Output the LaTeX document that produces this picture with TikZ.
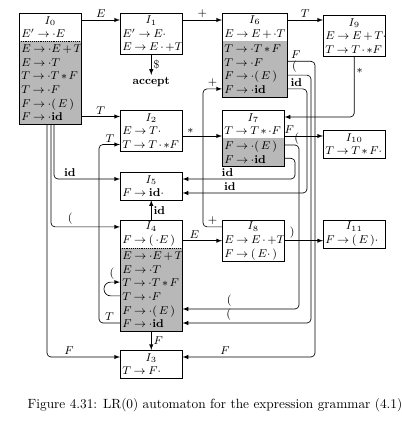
\documentclass[tikz,border=0pt]{standalone}
\usepackage{fix-cm}
\usepackage{amsmath}
\usepackage{tikz}
\usetikzlibrary{arrows}
\usetikzlibrary{positioning}
\newcommand{\lrfont}{\fontsize{8.5}{10.2}\selectfont
  \thickmuskip=4mu\relax\medmuskip=2.5mu\relax
  \relpenalty=10000\relax\binoppenalty=10000\relax}

\begin{document}
\begin{tikzpicture}[x=0.75pt,y=-0.75pt,
  every node/.style={font=\lrfont},
  kern/.style={anchor=north west,inner xsep=1.5pt,inner ysep=0pt,text width=43.5pt,align=left},
  clos/.style={kern,anchor=north,fill=black!28},
  rows/.style={minimum height=#1*10.35pt},
  trans/.style={-latex,line width=0.5pt,rounded corners=3pt},
  lbl/.style={inner sep=1.5pt}]
\useasboundingbox (0,0) rectangle (402,424);

% states
\node[kern,rows=2] (I0) at (19,13) {\makebox[\linewidth]{$I_0$}\\$E'\to\cdot E$};
\node[clos,rows=6,below=0pt of I0] (I0c) {$E\to\cdot E+T$\\$E\to\cdot T$\\$T\to\cdot T*F$\\$T\to\cdot F$\\$F\to\cdot(\,E\,)$\\$F\to\cdot\mathbf{id}$};
\draw (I0.north west) rectangle (I0c.south east);
\draw[densely dotted] (I0.south west) -- (I0.south east);

\node[kern,draw,rows=3] (I1) at (120,13) {\makebox[\linewidth]{$I_1$}\\$E'\to E\cdot$\\$E\to E\cdot+T$};
\node[lbl,below=15pt of I1] (accept) {\textbf{accept}};

\node[kern,rows=2,text width=45.75pt] (I6) at (222,13) {\makebox[\linewidth]{$I_6$}\\$E\to E+\cdot T$};
\node[clos,rows=4,text width=45.75pt,below=0pt of I6] (I6c) {$T\to\cdot T*F$\\$T\to\cdot F$\\$F\to\cdot(\,E\,)$\\$F\to\cdot\mathbf{id}$};
\draw (I6.north west) rectangle (I6c.south east);

\node[kern,draw,rows=3] (I9) at (323,15) {\makebox[\linewidth]{$I_9$}\\$E\to E+T\cdot$\\$T\to T\cdot*F$};

\node[kern,draw,rows=3] (I2) at (120,110) {\makebox[\linewidth]{$I_2$}\\$E\to T\cdot$\\$T\to T\cdot*F$};

\node[kern,rows=2] (I7) at (222,110) {\makebox[\linewidth]{$I_7$}\\$T\to T*\cdot F$};
\node[clos,rows=2,below=0pt of I7] (I7c) {$F\to\cdot(\,E\,)$\\$F\to\cdot\mathbf{id}$};
\draw (I7.north west) rectangle (I7c.south east);

\node[kern,draw,rows=2] (I10) at (323,130) {\makebox[\linewidth]{$I_{10}$}\\$T\to T*F\cdot$};

\node[kern,draw,rows=2] (I5) at (120,172) {\makebox[\linewidth]{$I_5$}\\$F\to\mathbf{id}\cdot$};

\node[kern,rows=2] (I4) at (120,220) {\makebox[\linewidth]{$I_4$}\\$F\to(\,\cdot E\,)$};
\node[clos,rows=6,below=0pt of I4] (I4c) {$E\to\cdot E+T$\\$E\to\cdot T$\\$T\to\cdot T*F$\\$T\to\cdot F$\\$F\to\cdot(\,E\,)$\\$F\to\cdot\mathbf{id}$};
\draw (I4.north west) rectangle (I4c.south east);
\draw[densely dotted] (I4.south west) -- (I4.south east);

\node[kern,draw,rows=3] (I8) at (222,220) {\makebox[\linewidth]{$I_8$}\\$E\to E\cdot+T$\\$F\to(\,E\cdot\,)$};

\node[kern,draw,rows=2] (I11) at (323,220) {\makebox[\linewidth]{$I_{11}$}\\$F\to(\,E\,)\cdot$};

\node[kern,draw,rows=2] (I3) at (120,350) {\makebox[\linewidth]{$I_3$}\\$T\to F\cdot$};

\node[font=\fontsize{10}{12}\selectfont] (cap) at (215,405) {Figure 4.31: LR(0) automaton for the expression grammar (4.1)};

% transitions
\draw[trans] (I0.east |- 0,20) -- node[lbl,above]{$E$} (I1.west |- 0,20);
\draw[trans] (I1.east |- 0,20) -- node[lbl,above]{$+$} (I6.west |- 0,20);
\draw[trans] (I6.east |- 0,20) -- node[lbl,above]{$T$} (I9.west |- 0,20);
\draw[trans] (I1.south) -- node[lbl,right]{\$} (accept);

\draw[trans] (I0.east |- 0,116.5) -- node[lbl,above]{$T$} (I2.west |- 0,116.5);
\draw[trans] (I2.east |- 0,136) -- node[lbl,above,pos=0.2]{$*$} (I7.west |- 0,136);
\draw[trans] (I7.east |- 0,136) -- node[lbl,above,pos=0.12]{$F$} (I10.west |- 0,136);
\draw[trans] (I9.south) |- node[lbl,right,pos=0.12]{$*$} (I7.east |- 0,117);

\draw[trans] (I6.east |- 0,61.3) -- node[lbl,above,pos=0.3]{$F$} (315,61.3) |- node[lbl,above,pos=0.84]{$F$} (I3.east |- 0,357);
\draw[trans] (I6.east |- 0,75.1) -- node[lbl,above,pos=0.3]{$($} (311,75.1) |- node[lbl,above,pos=0.82]{$($} (I4.east |- 0,323);
\draw[trans] (I6.east |- 0,88.9) -- node[lbl,above,pos=0.45]{$\mathbf{id}$} (307,88.9) |- node[lbl,above,pos=0.81]{$\mathbf{id}$} (I5.east |- 0,193);

\draw[trans] (I7.east |- 0,145) -- node[lbl,above,pos=0.85,inner sep=0.5pt]{$($} (299,145) |- node[lbl,above,pos=0.8]{$($} (I4.east |- 0,309);
\draw[trans] (I7.east |- 0,158.3) -- (295,158.3) |- node[lbl,above,pos=0.8]{$\mathbf{id}$} (I5.east |- 0,179);

\draw[trans] (I8.east |- 0,240.7) -- node[lbl,above,pos=0.2]{$)$} (I11.west |- 0,240.7);
\draw[trans] (I8.west |- 0,226.9) -| node[lbl,above,pos=0.25]{$+$} (203,88.9) -- node[lbl,above]{$+$} (I6.west |- 0,88.9);

\draw[trans] (I4.north) -- node[lbl,right]{$\mathbf{id}$} (I5.south);
\draw[trans] (I4.east |- 0,240.7) -- node[lbl,above,pos=0.3]{$E$} (I8.west |- 0,240.7);
\draw[trans] (I4c.south) -- node[lbl,right]{$F$} (I3.north);
\draw[trans,rounded corners=5pt] (I4.west |- 0,295.9) -- (104,295.9) |- node[lbl,above,pos=0.75]{$($} (I4.west |- 0,282.1);
\draw[trans] (I4.west |- 0,323) -- node[lbl,above,pos=0.5]{$T$} (99,323) |- node[lbl,above,pos=0.76]{$T$} (I2.west |- 0,144.5);

\draw[trans] (I0c.south -| 54,0) |- node[lbl,above,pos=0.62]{$\mathbf{id}$} (I5.west |- 0,179);
\draw[trans] (I0c.south -| 51,0) |- node[lbl,above,pos=0.64]{$($} (I4.west |- 0,226.9);
\draw[trans] (I0c.south -| 47,0) |- node[lbl,above,pos=0.65]{$F$} (I3.west |- 0,357);
\end{tikzpicture}
\end{document}
